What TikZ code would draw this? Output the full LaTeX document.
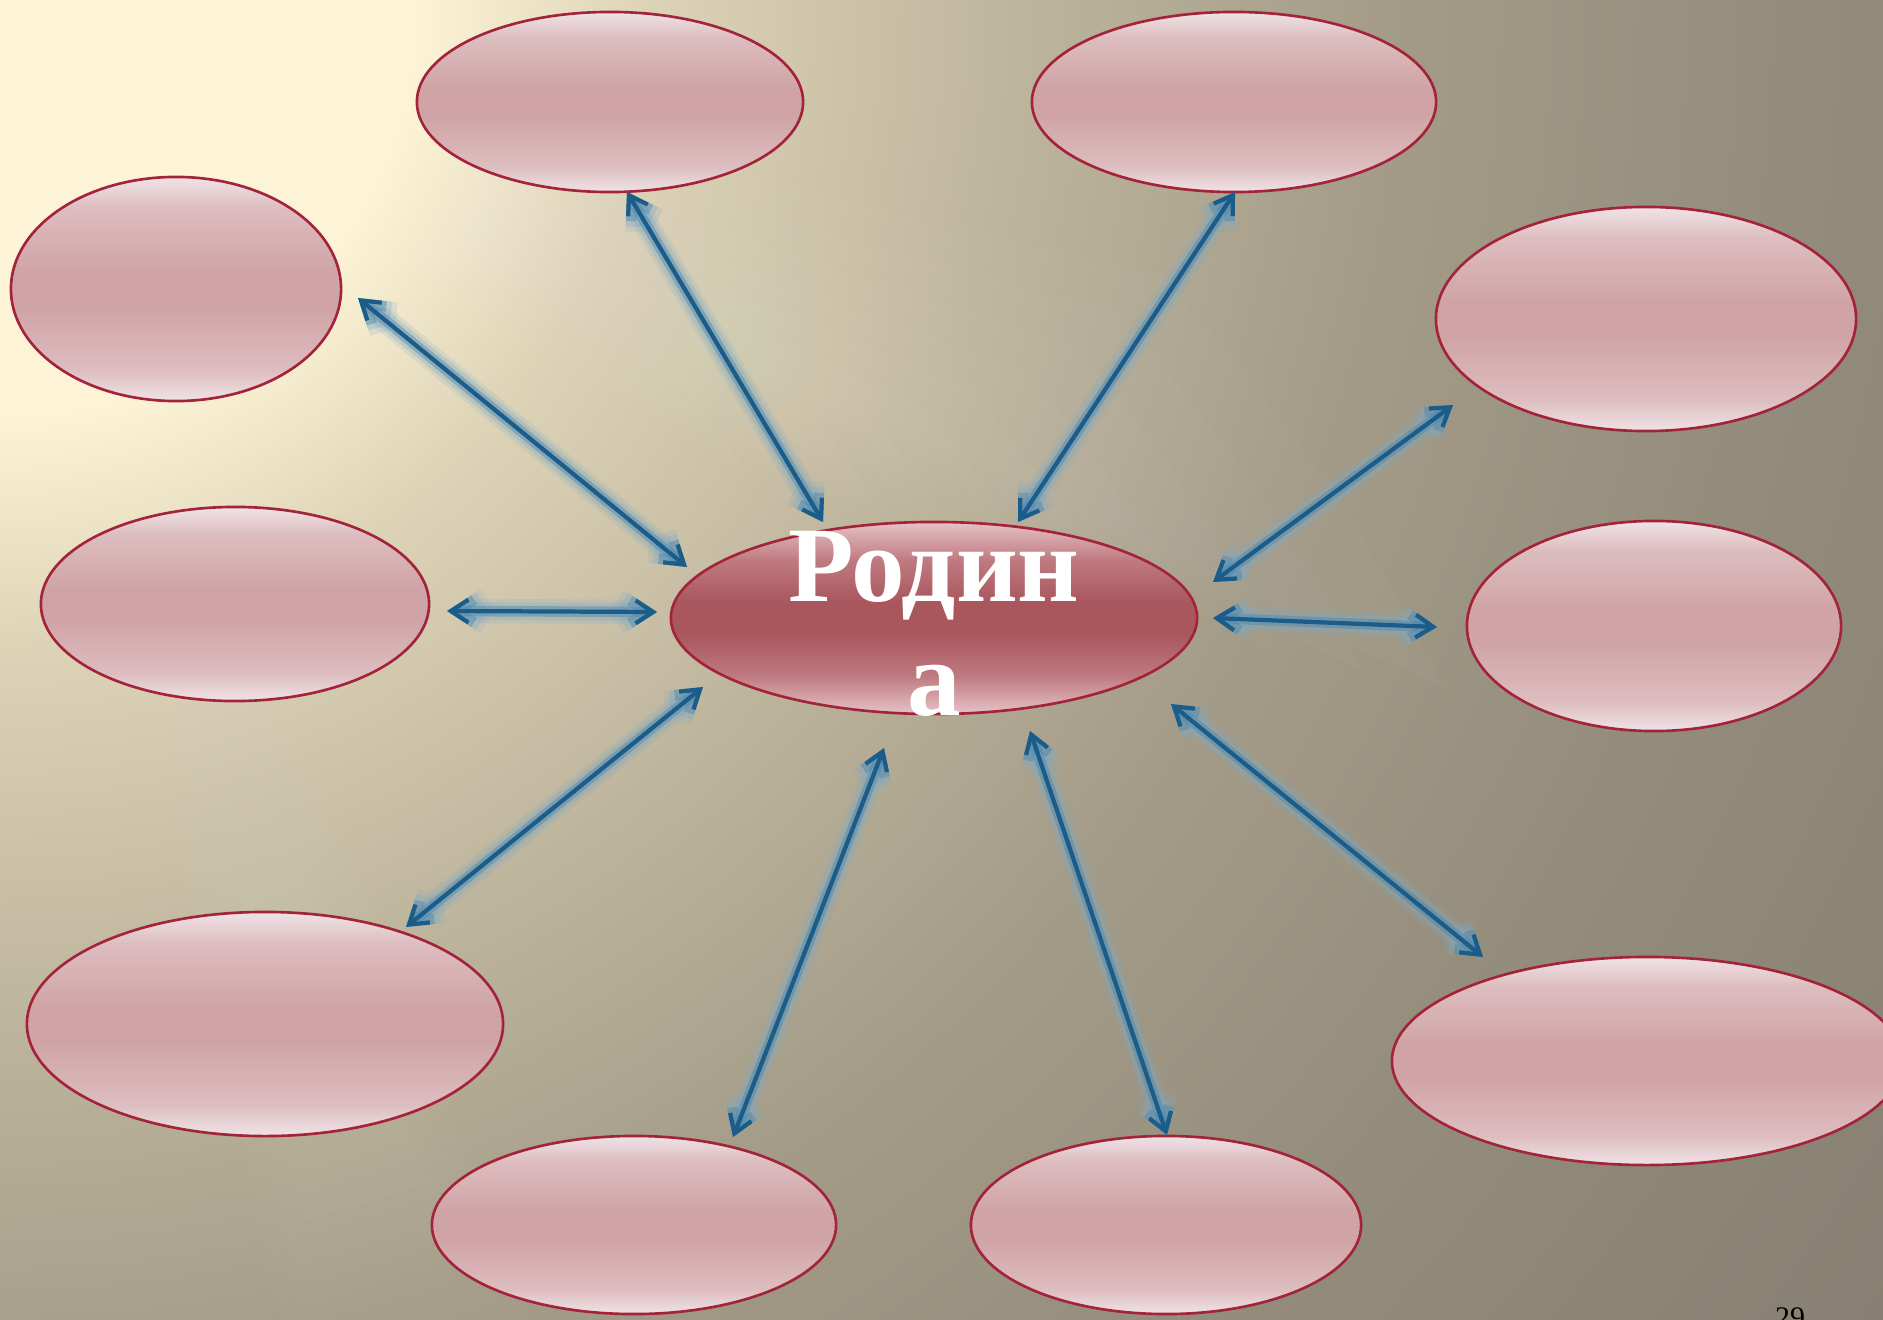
\documentclass[tikz,border=0pt]{standalone}
\usepackage{fontspec}
\setmainfont{Liberation Serif}
\usetikzlibrary{arrows.meta,shapes.geometric}
\definecolor{bgA}{HTML}{FDF4D7}
\definecolor{bgB}{HTML}{DDD3B7}
\definecolor{bgC}{HTML}{BEB59D}
\definecolor{bgD}{HTML}{A49C88}
\definecolor{bgE}{HTML}{918979}
\definecolor{bgF}{HTML}{878072}
\definecolor{pkT}{HTML}{F0E3E6}
\definecolor{pkU}{HTML}{DDBDC0}
\definecolor{pkM}{HTML}{D0A4A6}
\definecolor{rdT}{HTML}{E6C2C6}
\definecolor{rdU}{HTML}{BE7A80}
\definecolor{rdM}{HTML}{A9565D}
\definecolor{rim}{HTML}{A3233A}
\definecolor{glowo}{HTML}{7FAAC4}
\definecolor{glowm}{HTML}{4A86AE}
\definecolor{arrc}{HTML}{1A5C8A}
\pgfdeclareradialshading{bgshade}{\pgfpoint{0bp}{0bp}}{color(0bp)=(bgA); color(4.5bp)=(bgA); color(7bp)=(bgB); color(11bp)=(bgC); color(15bp)=(bgD); color(20.5bp)=(bgE); color(25bp)=(bgF); color(50bp)=(bgF)}
\pgfdeclareverticalshading{pinkgloss}{100bp}{color(0bp)=(pkT); color(25bp)=(pkT); color(32bp)=(pkU); color(46bp)=(pkM); color(54bp)=(pkM); color(68bp)=(pkU); color(75bp)=(pkT); color(100bp)=(pkT)}
\pgfdeclareverticalshading{redgloss}{100bp}{color(0bp)=(rdT); color(25bp)=(rdT); color(35bp)=(rdU); color(46bp)=(rdM); color(54bp)=(rdM); color(65bp)=(rdU); color(75bp)=(rdT); color(100bp)=(rdT)}
\tikzset{
  bubble/.style={ellipse, draw=rim, line width=0.75pt, shading=pinkgloss, inner sep=0pt},
  hub/.style={ellipse, draw=rim, line width=0.75pt, shading=redgloss, inner sep=0pt},
  tipstyle/.style={{Straight Barb[length=5pt,width=6.5pt]}-{Straight Barb[length=5pt,width=6.5pt]}},
  glowwide/.style={tipstyle, draw=glowo, line width=7pt, opacity=0.18, line cap=round, line join=round},
  glowout/.style={tipstyle, draw=glowo, line width=5pt, opacity=0.3, line cap=round, line join=round},
  glowmid/.style={tipstyle, draw=glowm, line width=3pt, opacity=0.45, line cap=round, line join=round},
  corearrow/.style={tipstyle, draw=arrc, line width=1.2pt, line join=round},
  ray/.style={fill=white, opacity=0.02}
}
\begin{document}
\begin{tikzpicture}[x=0.01cm, y=-0.01cm]
\useasboundingbox (0,0) rectangle (1883,1319);
\clip (0,0) rectangle (1883,1319);
% background
\shade[shading=bgshade] (0,0) circle (23cm);
\foreach \k in {1,...,10} {
  \fill[ray] (0,0) -- ({33-0.75*\k}:{800+80*\k}) arc[start angle={33-0.75*\k}, delta angle={3+1.5*\k}, radius={(800+80*\k)*0.01cm}] -- cycle;
}
\foreach \k in {1,...,4} {
  \fill[ray, opacity=0.015] (0,0) -- ({72-\k}:{1100+80*\k}) -- ({74+\k}:{1100+80*\k}) -- cycle;
}
% bubbles
\node[bubble, minimum width=3.86cm, minimum height=1.80cm] (t1) at (610,102) {};
\node[bubble, minimum width=4.04cm, minimum height=1.80cm] (t2) at (1234,102) {};
\node[bubble, minimum width=3.30cm, minimum height=2.24cm] (l1) at (176,289) {};
\node[bubble, minimum width=4.20cm, minimum height=2.24cm] (r1) at (1646,319) {};
\node[bubble, minimum width=3.88cm, minimum height=1.94cm] (l2) at (235,604) {};
\node[bubble, minimum width=3.74cm, minimum height=2.10cm] (r2) at (1654,626) {};
\node[bubble, minimum width=4.76cm, minimum height=2.24cm] (l3) at (265,1024) {};
\node[bubble, minimum width=5.10cm, minimum height=2.08cm] (r3) at (1647,1061) {};
\node[bubble, minimum width=4.04cm, minimum height=1.78cm] (b1) at (634,1225) {};
\node[bubble, minimum width=3.90cm, minimum height=1.78cm] (b2) at (1166,1225) {};
\node[hub, minimum width=5.26cm, minimum height=1.92cm] (c) at (934,618) {};
\node[anchor=north, inner sep=0pt, align=center, text=white,
      font=\fontsize{30.5}{32.4}\selectfont\bfseries] (ct) at (934,531) {Родин\\а};
% arrow end points
\coordinate (a1) at (358,298);  \coordinate (a2) at (687,567);
\coordinate (b1) at (627,192);  \coordinate (b2) at (823,522);
\coordinate (c1) at (1235,192); \coordinate (c2) at (1018,522);
\coordinate (d1) at (1453,405); \coordinate (d2) at (1213,582);
\coordinate (e1) at (447,611);  \coordinate (e2) at (657,612);
\coordinate (f1) at (1213,618); \coordinate (f2) at (1437,627);
\coordinate (g1) at (703,687);  \coordinate (g2) at (406,927);
\coordinate (h1) at (1171,704); \coordinate (h2) at (1483,957);
\coordinate (i1) at (884,748);  \coordinate (i2) at (733,1137);
\coordinate (j1) at (1030,731); \coordinate (j2) at (1167,1135);
\foreach \p in {a,b,c,d,e,f,g,h,i,j} {
  \draw[glowwide] (\p1) -- (\p2);
  \draw[glowout] (\p1) -- (\p2);
  \draw[glowmid] (\p1) -- (\p2);
  \draw[corearrow] (\p1) -- (\p2);
}
\node[anchor=base, inner sep=0pt, font=\fontsize{8.5}{10}\selectfont] (num) at (1790,1327) {29};
\end{tikzpicture}
\end{document}
